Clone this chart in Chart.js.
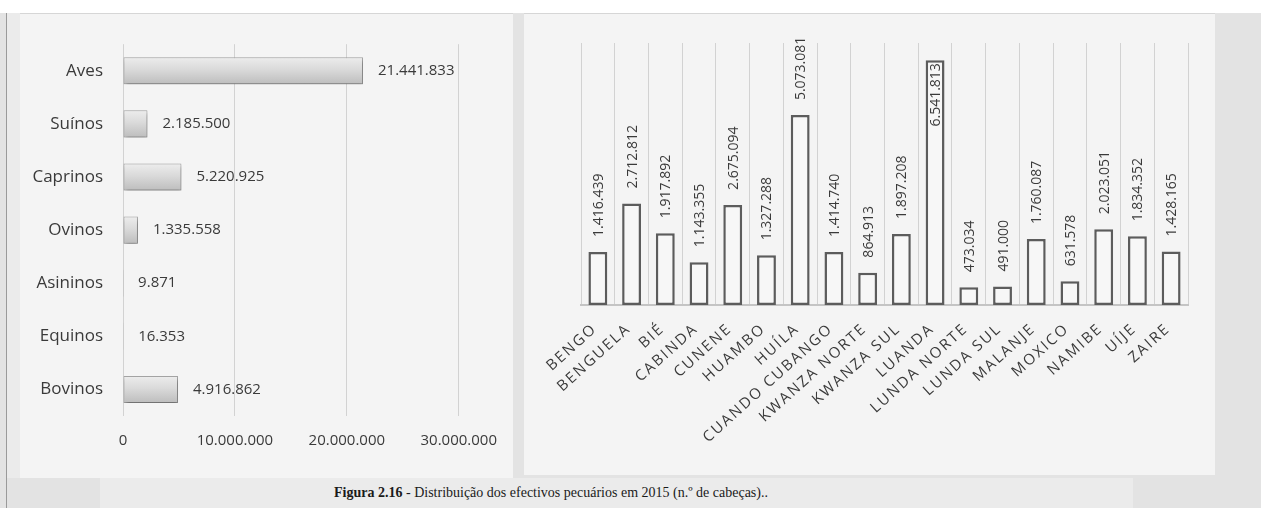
<!DOCTYPE html>
<html>
<head>
<meta charset="utf-8">
<script src="https://cdn.jsdelivr.net/npm/chart.js@4.4.1/dist/chart.umd.min.js"></script>
<style>
  body { margin: 0; width: 1261px; height: 508px; background: #fff; position: relative; overflow: hidden; }
  .frame { position: absolute; left: 0; top: 13px; width: 1261px; height: 495px; background: #e3e3e3; }
  .edge { position: absolute; left: 6px; top: 13px; width: 1px; height: 495px; background: #9a9a9a; }
  .strip { position: absolute; left: 7px; top: 13px; width: 13px; height: 465px; background: #ebebeb; }
  .capband { position: absolute; left: 100px; top: 478px; width: 1033px; height: 30px; background: #ebebeb; }
  .panel { position: absolute; background: #f4f4f4; border-top: 1px solid #d6d6d6; box-sizing: border-box; }
  #left { left: 20px; top: 13px; width: 493px; height: 465px; }
  #right { left: 524px; top: 13px; width: 691px; height: 462px; }
  canvas { position: absolute; left: 0; top: 0; }
  .caption { position: absolute; left: 0; width: 1102px; top: 485px; text-align: center;
             font-family: 'Liberation Serif', serif; font-size: 14px; color: #1a1a1a; }
</style>
</head>
<body>
<div class="frame"></div>
<div class="edge"></div>
<div class="strip"></div>
<div class="capband"></div>
<div class="panel" id="left"><canvas id="speciesChart" width="493" height="465"></canvas></div>
<div class="panel" id="right"><canvas id="provinceChart" width="691" height="462"></canvas></div>
<div class="caption"><b>Figura 2.16</b> - Distribuição dos efectivos pecuários em 2015 (n.º de cabeças)..</div>

<script>
// efectivos por espécie
const speciesLabels = ['Aves', 'Suínos', 'Caprinos', 'Ovinos', 'Asininos', 'Equinos', 'Bovinos'];
const speciesCounts = [21441833, 2185500, 5220925, 1335558, 9871, 16353, 4916862];
const speciesTicks = [0, 10000000, 20000000, 30000000];

// efectivos por província
const provinces = ['BENGO', 'BENGUELA', 'BIÉ', 'CABINDA', 'CUNENE', 'HUAMBO', 'HUÍLA', 'CUANDO CUBANGO',
  'KWANZA NORTE', 'KWANZA SUL', 'LUANDA', 'LUNDA NORTE', 'LUNDA SUL', 'MALANJE', 'MOXICO', 'NAMIBE', 'UÍJE', 'ZAIRE'];
const provinceCounts = [1416439, 2712812, 1917892, 1143355, 2675094, 1327288, 5073081, 1414740,
  864913, 1897208, 6541813, 473034, 491000, 1760087, 631578, 2023051, 1834352, 1428165];

const fmt = v => String(v).replace(/\B(?=(\d{3})+(?!\d))/g, '.');

// draws the numbers next to / above each bar
const valueLabels = {
  id: 'valueLabels',
  afterDatasetsDraw(chart, args, opts) {
    const ctx = chart.ctx;
    const values = chart.data.datasets[0].data;
    ctx.save();
    ctx.letterSpacing = '0px';
    ctx.font = opts.font;
    ctx.fillStyle = opts.color;
    ctx.textBaseline = 'middle';
    ctx.textAlign = 'left';
    chart.getDatasetMeta(0).data.forEach((bar, i) => {
      const text = fmt(values[i]);
      if (chart.options.indexAxis === 'y') {
        ctx.fillText(text, bar.x + opts.offset, bar.y);
        return;
      }
      const w = ctx.measureText(text).width;
      let start = bar.y - opts.offset;
      if (start - w < 0) start = bar.y + 3 + w; // no room above: put it inside
      ctx.save();
      ctx.translate(bar.x + 1, start);
      ctx.rotate(-Math.PI / 2);
      ctx.fillText(text, 0, 0);
      ctx.restore();
    });
    ctx.restore();
  }
};

// spaced-out capitals on the province axis
const spacedTicks = {
  id: 'spacedTicks',
  beforeDraw(chart) { chart.ctx.letterSpacing = '2px'; },
  beforeDatasetsDraw(chart) { chart.ctx.letterSpacing = '0px'; }
};

const barShadow = {
  id: 'barShadow',
  beforeDatasetDraw(chart) {
    const ctx = chart.ctx;
    ctx.save();
    ctx.shadowColor = 'rgba(0,0,0,0.35)';
    ctx.shadowOffsetY = 3;
    ctx.shadowOffsetX = 1;
    ctx.shadowBlur = 4;
  },
  afterDatasetDraw(chart) {
    chart.ctx.restore();
  }
};

const barFill = (c) => {
  const chart = c.chart;
  const area = chart.chartArea;
  if (!area || c.dataIndex === undefined) return '#d6d6d6';
  const y = chart.scales.y.getPixelForValue(c.dataIndex);
  const half = (area.bottom - area.top) / speciesLabels.length * 0.51 / 2;
  const g = chart.ctx.createLinearGradient(0, y - half, 0, y + half);
  g.addColorStop(0, '#ededed');
  g.addColorStop(0.45, '#dadada');
  g.addColorStop(1, '#bdbdbd');
  return g;
};

new Chart(document.getElementById('speciesChart'), {
  type: 'bar',
  data: {
    labels: speciesLabels,
    datasets: [{
      data: speciesCounts,
      backgroundColor: barFill,
      borderColor: '#a5a5a5',
      borderWidth: 1,
      borderSkipped: false,
      categoryPercentage: 1,
      barPercentage: 0.51
    }]
  },
  options: {
    indexAxis: 'y',
    responsive: false,
    animation: false,
    layout: { padding: { left: 0, top: 17, right: 54, bottom: 23 } },
    plugins: {
      legend: { display: false },
      tooltip: { enabled: false },
      valueLabels: { font: '15px "Open Sans"', color: '#3a3a3a', offset: 15 }
    },
    scales: {
      x: {
        min: 0,
        max: 30000000,
        afterBuildTicks: scale => { scale.ticks = speciesTicks.map(v => ({ value: v })); },
        afterFit: scale => { scale.height = 40; },
        grid: { color: '#d2d2d2', drawTicks: false },
        border: { display: false },
        ticks: { padding: 16, color: '#3a3a3a', font: { family: 'Open Sans', size: 15 }, callback: v => fmt(v) }
      },
      y: {
        afterFit: scale => { scale.width = 103; },
        grid: { display: false, drawTicks: false },
        border: { display: false },
        ticks: { padding: 20, color: '#3a3a3a', font: { family: 'Open Sans', size: 17 } }
      }
    }
  },
  plugins: [barShadow, valueLabels]
});

new Chart(document.getElementById('provinceChart'), {
  type: 'bar',
  data: {
    labels: provinces,
    datasets: [{
      data: provinceCounts,
      backgroundColor: '#f7f7f7',
      borderColor: '#5c5c5c',
      borderWidth: 2.5,
      borderSkipped: false,
      categoryPercentage: 1,
      barPercentage: 0.56
    }]
  },
  options: {
    responsive: false,
    animation: false,
    layout: { padding: { left: 57, top: 29, right: 27, bottom: 0 } },
    plugins: {
      legend: { display: false },
      tooltip: { enabled: false },
      valueLabels: { font: '14px "Open Sans"', color: '#3a3a3a', offset: 15 }
    },
    scales: {
      x: {
        afterFit: scale => { scale.height = 171; },
        grid: { color: '#d2d2d2', drawTicks: false },
        border: { color: '#c4c4c4', width: 2 },
        ticks: {
          autoSkip: false, minRotation: 42, maxRotation: 42, padding: 15, labelOffset: -3,
          color: '#3a3a3a', font: { family: 'Open Sans', size: 15 }
        }
      },
      y: {
        display: false,
        min: 0,
        max: 7000000
      }
    }
  },
  plugins: [spacedTicks, valueLabels]
});
</script>
</body>
</html>
